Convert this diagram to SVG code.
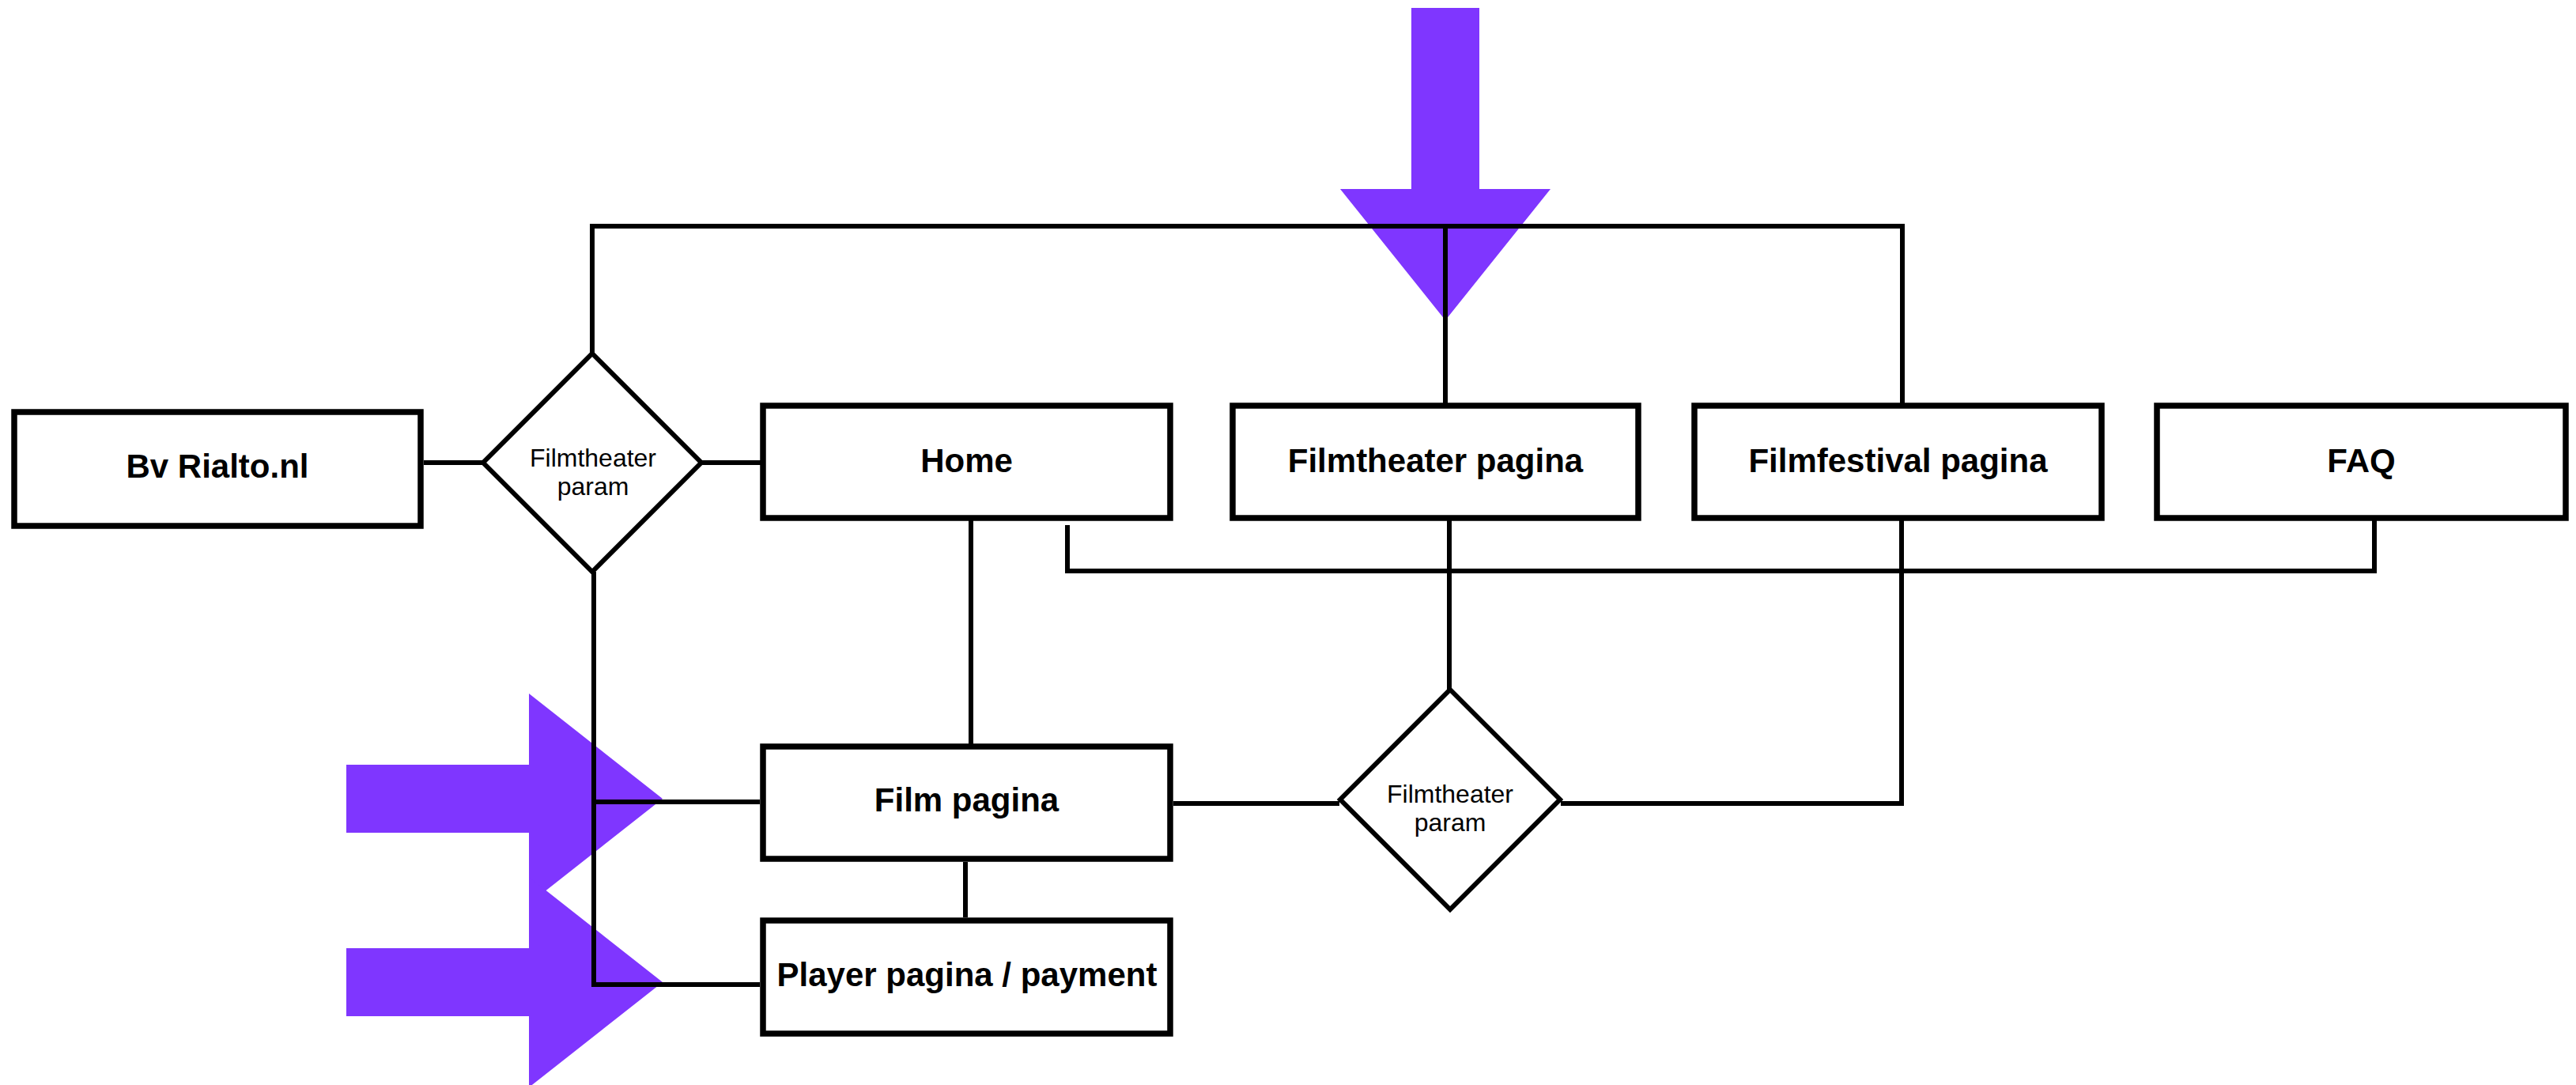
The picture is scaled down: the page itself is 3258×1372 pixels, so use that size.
<svg xmlns="http://www.w3.org/2000/svg" width="3258" height="1372" viewBox="0 0 3258 1372">
<style>
.box{fill:#fff;stroke:#000;stroke-width:7.5}
.dia{fill:#fff;stroke:#000;stroke-width:6}
.lbl{font-family:"Liberation Sans",Arial,Helvetica,sans-serif;font-weight:bold;font-size:42px;fill:#000;text-anchor:middle}
.dlbl{font-family:"Liberation Sans",Arial,Helvetica,sans-serif;font-size:32px;fill:#000;text-anchor:middle}
.c{fill:none;stroke:#000;stroke-width:6}
.arrow{fill:#7F36FF}
</style>
<rect width="3258" height="1372" fill="#fff"/>
<g id="accents">
<polygon class="arrow" points="1785,10 1871,10 1871,239 1961,239 1828,405 1695,239 1785,239"/>
<polygon class="arrow" points="438,967 669,967 669,877 838,1010 669,1143 669,1053 438,1053"/>
<polygon class="arrow" points="438,1199 669,1199 669,1109 838,1242 669,1375 669,1285 438,1285"/>
</g>
<g id="connectors">
<line class="c" x1="536" y1="585" x2="611" y2="585" stroke-width="7.5"/>
<line class="c" x1="887" y1="585" x2="962" y2="585" stroke-width="7.5"/>
<polyline class="c" points="749,447 749,286 2406,286 2406,510"/>
<line class="c" x1="1828" y1="286" x2="1828" y2="510" stroke-width="5"/>
<line class="c" x1="1228" y1="658" x2="1228" y2="941" stroke-width="5.5"/>
<polyline class="c" points="1350,664 1350,722 3003,722 3003,658" stroke-width="6.5"/>
<line class="c" x1="1833" y1="658" x2="1833" y2="872" stroke-width="5"/>
<polyline class="c" points="2405,658 2405,1016 1974,1016"/>
<line class="c" x1="1484" y1="1016" x2="1694" y2="1016"/>
<line class="c" x1="1221" y1="1090" x2="1221" y2="1160" stroke-width="5.5"/>
<polyline class="c" points="751,723 751,1245 961,1245" stroke-width="8.5"/>
<line class="c" x1="751" y1="1014" x2="961" y2="1014" stroke-width="6.5"/>
</g>
<g id="node-bv">
<rect class="box" x="18" y="521" width="514" height="144"/>
<text class="lbl" x="275" y="604" font-size="40">Bv Rialto.nl</text>
</g>
<g id="node-param1">
<polygon class="dia" points="749,447 887,585 749,723 611,585"/>
<text class="dlbl" x="750" y="590">Filmtheater</text>
<text class="dlbl" x="750" y="626">param</text>
</g>
<g id="node-home">
<rect class="box" x="965" y="513" width="515" height="142"/>
<text class="lbl" x="1222.5" y="597">Home</text>
</g>
<g id="node-filmtheater">
<rect class="box" x="1559" y="513" width="513" height="142"/>
<text class="lbl" x="1815.5" y="597">Filmtheater pagina</text>
</g>
<g id="node-filmfestival">
<rect class="box" x="2143" y="513" width="515" height="142"/>
<text class="lbl" x="2400.5" y="597">Filmfestival pagina</text>
</g>
<g id="node-faq">
<rect class="box" x="2728" y="513" width="517" height="142"/>
<text class="lbl" x="2986.5" y="597">FAQ</text>
</g>
<g id="node-film">
<rect class="box" x="965" y="944" width="515" height="142"/>
<text class="lbl" x="1222.5" y="1026">Film pagina</text>
</g>
<g id="node-player">
<rect class="box" x="965" y="1164" width="515" height="143"/>
<text class="lbl" x="1223" y="1247">Player pagina / payment</text>
</g>
<g id="node-param2">
<polygon class="dia" points="1834,872 1973,1011 1834,1150 1695,1011"/>
<text class="dlbl" x="1834" y="1015">Filmtheater</text>
<text class="dlbl" x="1834" y="1051">param</text>
</g>
</svg>
